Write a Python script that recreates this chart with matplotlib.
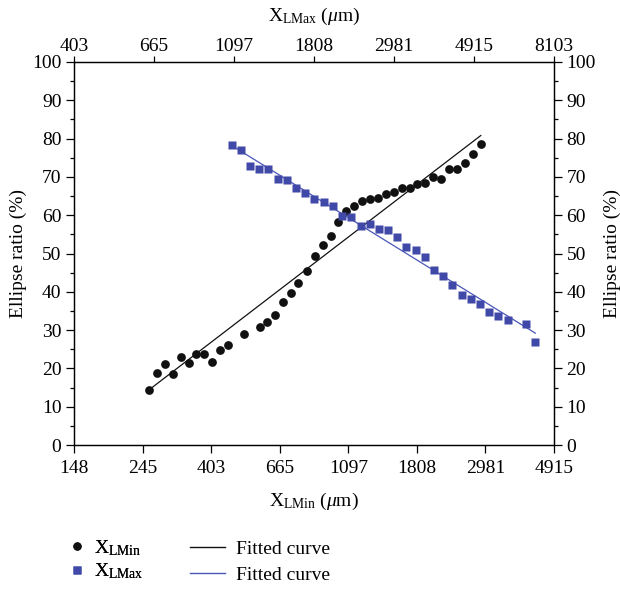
import numpy as np
import matplotlib
matplotlib.use("Agg")
import matplotlib.pyplot as plt
from matplotlib.ticker import FixedLocator, NullLocator, MultipleLocator
from matplotlib.lines import Line2D

# ---------------- data ----------------
xlmin_x = [256.5, 272.3, 288.3, 304.9, 323.1, 342.4, 362.1, 383.8, 406.7, 430.5,
           456.2, 511.3, 574.8, 607.9, 642.9, 681.3, 721.9, 761.3, 811.6, 858.4,
           909.6, 964.9, 1019.5, 1081.4, 1143.7, 1212.0, 1284.4, 1362.5, 1443.7, 1529.9,
           1619.7, 1716.4, 1813.5, 1923.4, 2034.4, 2155.9, 2280.1, 2418.6, 2563.1, 2716.2,
           2881.3]
xlmin_y = [14.4, 18.9, 21.2, 18.5, 22.9, 21.3, 23.7, 23.8, 21.7, 24.9,
           26.2, 29.1, 30.9, 32.1, 33.9, 37.3, 39.8, 42.3, 45.5, 49.3,
           52.3, 54.6, 58.2, 61.2, 62.4, 63.7, 64.2, 64.6, 65.5, 66.1,
           67.0, 67.1, 68.1, 68.4, 69.9, 69.4, 72.1, 72.1, 73.6, 75.9,
           78.6]

xlmax_x = [1084.6, 1147.8, 1214.0, 1284.5, 1358.8, 1446.4, 1530.2, 1618.7, 1712.3, 1811.5,
           1928.3, 2039.8, 2157.9, 2282.7, 2417.9, 2570.8, 2714.4, 2876.7, 3043.0, 3219.4,
           3427.0, 3625.0, 3835.0, 4057.0, 4292.0, 4569.0, 4832.4, 5112.3, 5408.2, 5721.3,
           6090.5, 6815.4, 7209.6]
xlmax_y = [78.3, 77.0, 72.8, 72.0, 72.0, 69.4, 69.1, 67.0, 65.7, 64.2,
           63.4, 62.3, 59.7, 59.4, 57.1, 57.6, 56.3, 56.1, 54.2, 51.6,
           50.8, 49.2, 45.8, 44.0, 41.7, 39.1, 38.0, 36.7, 34.7, 33.8,
           32.7, 31.7, 27.0]

fit_min_x = [256.5, 2881.3]
fit_min_y = [14.4, 80.8]
fit_max_x = [1084.6, 7209.6]
fit_max_y = [78.1, 29.2]

bottom_ticklabels = ['148', '245', '403', '665', '1097', '1808', '2981', '4915']
top_ticklabels = ['403', '665', '1097', '1808', '2981', '4915', '8103']
y_ticks = [0, 10, 20, 30, 40, 50, 60, 70, 80, 90, 100]

# ---------------- style ----------------
plt.rcParams['font.family'] = ['Liberation Serif', 'DejaVu Serif']
plt.rcParams['mathtext.fontset'] = 'custom'
plt.rcParams['mathtext.rm'] = 'Liberation Serif'
plt.rcParams['mathtext.it'] = 'Liberation Serif:italic'
plt.rcParams['font.size'] = 14

black = '#111111'
blue = '#4049a8'
blue_line = '#4a56b8'
FS = 14

W, H = 620, 593
fig = plt.figure(figsize=(W / 100, H / 100), dpi=100)
L, R, T, B = 74, 554, 62, 445
ax = fig.add_axes([L / W, 1 - B / H, (R - L) / W, (B - T) / H])

ax.set_xscale('log')
ax.set_xlim(np.exp(5), np.exp(8.5))
ax.xaxis.set_major_locator(FixedLocator(np.exp(np.arange(5, 8.51, 0.5))))
ax.xaxis.set_minor_locator(NullLocator())
ax.set_xticklabels(bottom_ticklabels)
ax.set_ylim(0, 100)
ax.yaxis.set_major_locator(FixedLocator(y_ticks))
ax.yaxis.set_minor_locator(MultipleLocator(5))
ax.tick_params(axis='both', which='major', direction='out', length=6, width=0.9, labelsize=FS, pad=3)
ax.tick_params(axis='x', which='major', pad=5)
ax.tick_params(axis='y', which='minor', direction='out', length=3, width=0.9)
ax.tick_params(axis='y', which='both', right=True, labelright=True)
for s in ax.spines.values():
    s.set_linewidth(0.9)

ax.plot(fit_min_x, fit_min_y, color=black, lw=0.9, zorder=2)
ax.plot(xlmin_x, xlmin_y, 'o', color=black, ms=6.3, mec='none', zorder=3)

ax2 = ax.twiny()
ax2.set_xscale('log')
ax2.set_xlim(np.exp(6), np.exp(9))
ax2.xaxis.set_major_locator(FixedLocator(np.exp(np.arange(6, 9.01, 0.5))))
ax2.xaxis.set_minor_locator(NullLocator())
ax2.set_xticklabels(top_ticklabels)
ax2.tick_params(axis='x', direction='out', length=4, width=0.9, labelsize=FS, pad=1)
for s in ax2.spines.values():
    s.set_linewidth(0.9)
ax2.plot(fit_max_x, fit_max_y, color=blue_line, lw=0.9, zorder=2)
ax2.plot(xlmax_x, xlmax_y, 's', color=blue, ms=5.6, mec='none', zorder=3)

ax.set_xlabel(r'X$_{\mathrm{LMin}}$ ($\mu$m)', fontsize=FS, labelpad=10)
ax2.set_xlabel(r'X$_{\mathrm{LMax}}$ ($\mu$m)', fontsize=FS, labelpad=12)
ax.set_ylabel('Ellipse ratio (%)', fontsize=FS, labelpad=4)
fig.text(612 / W, 1 - 253 / H, 'Ellipse ratio (%)', rotation=90, fontsize=FS,
         ha='center', va='center')

# legends
h1 = [Line2D([], [], ls='none', marker='o', color=black, ms=6, mec='none'),
      Line2D([], [], ls='none', marker='s', color=blue, ms=5.5, mec='none')]
leg1 = fig.legend(h1, [r'X$_{\mathrm{LMin}}$', r'X$_{\mathrm{LMax}}$'],
                  loc='upper left', bbox_to_anchor=(70 / W, 1 - 538 / H),
                  frameon=False, handlelength=0.7, handletextpad=0.55,
                  labelspacing=0.2, fontsize=FS, borderpad=0, borderaxespad=0)
h2 = [Line2D([], [], color=black, lw=1.0), Line2D([], [], color=blue_line, lw=1.0)]
leg2 = fig.legend(h2, ['Fitted curve', 'Fitted curve'],
                  loc='upper left', bbox_to_anchor=(190 / W, 1 - 540 / H),
                  frameon=False, handlelength=1.8, handletextpad=0.55,
                  labelspacing=0.45, fontsize=FS, borderpad=0, borderaxespad=0)
fig.add_artist(leg1)

fig.savefig('out.png', dpi=100)
